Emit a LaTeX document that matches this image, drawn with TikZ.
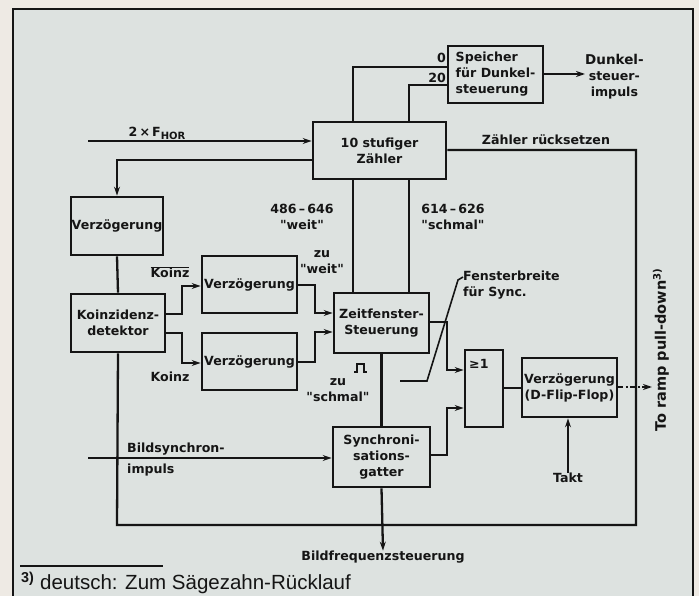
\documentclass[tikz,border=0pt]{standalone}
\usepackage{fontspec}
\setmainfont{DejaVu Sans}[Ligatures=TeXOff]
\newfontfamily\footfont{Liberation Sans}
\usetikzlibrary{arrows.meta}
\definecolor{panel}{HTML}{DDE2E0}
\definecolor{marg}{HTML}{EEEAE4}
\definecolor{ink}{HTML}{151515}
\begin{document}
\begin{tikzpicture}[x=1pt,y=-1pt,
  font=\bfseries\fontsize{12.6}{16}\selectfont, text=ink,
  box/.style={draw=ink, line width=2.8pt, fill=panel, inner sep=0.5pt, align=center},
  ln/.style={draw=ink, line width=2.3pt},
  arr/.style={ln, -{Stealth[length=9pt,width=6pt]}},
  lbl/.style={inner sep=0pt, align=center}]
\useasboundingbox (0,0) rectangle (699,596);
\fill[marg] (0,0) rectangle (699,596);
\fill[panel] (13,9) rectangle (693,600);
\draw[ink, line width=2.6pt] (13,600) -- (13,9) -- (693,9) -- (693,600);

% boxes
\node[box, minimum width=133pt, minimum height=57pt] (Z) at (379.5,150.5) {10 stufiger\\Zähler};
\node[box, minimum width=95pt, minimum height=57pt, align=left] (S) at (495.5,74.5) {Speicher\\für Dunkel-\\steuerung};
\node[box, minimum width=92pt, minimum height=58pt] (V1) at (117,226) {Verzögerung};
\node[box, minimum width=94pt, minimum height=58pt] (K) at (118,323) {Koinzidenz-\\detektor};
\node[box, minimum width=95pt, minimum height=57pt] (V2) at (249.5,284.5) {Verzögerung};
\node[box, minimum width=95pt, minimum height=57pt] (V3) at (249.5,361.5) {Verzögerung};
\node[box, minimum width=95pt, minimum height=60pt] (ZF) at (381.5,323) {Zeitfenster-\\Steuerung};
\node[box, minimum width=97pt, minimum height=60pt] (SG) at (381.5,457) {Synchroni-\\sations-\\gatter};
\node[box, minimum width=38pt, minimum height=77pt] (OR) at (484,388.5) {};
\node[lbl, anchor=north west] (ORt) at (469,359) {≥1};
\node[box, minimum width=95pt, minimum height=59pt] (DF) at (569.5,387.5) {Verzögerung\\(D-Flip-Flop)};

% labels
\node[lbl] (D) [anchor=west] at (585,77) {\fontsize{13.5}{16}\selectfont Dunkel-\\steuer-\\impuls};
\node[lbl, anchor=east] (L0) at (446,58) {0};
\node[lbl, anchor=east] (L20) at (446,78) {20};
\node[lbl] (FH) at (157,133) {2\,×\,F\raisebox{-3pt}{\fontsize{10}{10}\selectfont HOR}};
\node[lbl] (ZR) at (546,140) {Zähler rücksetzen};
\node[lbl] (W1) at (302,217) {486\,–\,646\\"weit"};
\node[lbl] (W2) at (453,217) {614\,–\,626\\"schmal"};
\node[lbl] (ZW) at (322,262) {zu\\"weit"};
\node[lbl] (ZS) at (338,390) {zu\\"schmal"};
\node[lbl] (KO) at (170,272) {$\overline{\mbox{Koinz}}$};
\node[lbl] (KU) at (170,377) {Koinz};
\node[lbl, anchor=west, align=left] (FB) at (463,285) {Fensterbreite\\für Sync.};
\node[lbl, anchor=west, align=left] (BS) at (127,460) {Bildsynchron-\\[5pt]impuls};
\node[lbl] (BF) at (383,557) {Bildfrequenzsteuerung};
\node[lbl] (TK) at (568,478) {Takt};
\node[lbl, rotate=90] (RP) at (661,350) {\fontsize{14.5}{16}\selectfont To ramp pull-down\textsuperscript{3)}};

% connectors
\coordinate (fin) at (88,141);
\draw[arr] (fin) -- (Z.west |- 0,141);
\draw[arr] (Z.west |- 0,160) -| (V1.north);
\draw[ln] (V1.south) -- (K.north);
\draw[arr] (K.east |- 0,314) -- (182,314) |- (V2.west |- 0,286);
\draw[arr] (K.east |- 0,333) -- (182,333) |- (V3.west |- 0,363);
\draw[arr] (V2.east |- 0,285) -- (315,285) |- (ZF.west |- 0,313);
\draw[arr] (V3.east |- 0,362) -- (315,362) |- (ZF.west |- 0,332);
\draw[ln] (Z.south -| 353,0) -- (ZF.north -| 353,0);
\draw[ln] (Z.south -| 409,0) -- (ZF.north -| 409,0);
\draw[ln] (Z.north -| 353,0) |- (S.west |- 0,67);
\draw[ln] (Z.north -| 409,0) |- (S.west |- 0,85);
\draw[arr] (S.east |- 0,74) -- (D.west |- 0,74);
\draw[ln] (Z.east |- 0,150) -- (636,150) -- (636,525) -- (117,525) -- (K.south);
\coordinate (bin) at (88,458);
\draw[arr] (bin) -- (SG.west |- 0,458);
\draw[ln] (ZF.south) -- (SG.north);
\draw[arr] (SG.south) -- (BF.north);
\draw[arr] (ZF.east |- 0,322) -- (447,322) |- (OR.west |- 0,370);
\draw[arr] (SG.east |- 0,455) -- (447,455) |- (OR.west |- 0,408);
\draw[ln] (OR.east |- 0,388) -- (DF.west |- 0,388);
\draw[ln, dash pattern=on 5pt off 2.5pt on 2pt off 2.5pt, -{Stealth[length=9pt,width=6pt]}] (DF.east |- 0,387) -- (652,387);
\draw[arr] (TK.north) -- (DF.south -| TK.north);
\draw[draw=ink, line width=1.6pt] (400,381) -- (427,381) -- (458,280) -- (FB.west |- 0,277);
\draw[draw=ink, line width=1.8pt] (354,372) -- (357,372) -- (357,364) -- (364,364) -- (364,372) -- (367,372);

% footnote
\draw[draw=ink, line width=1.4pt] (20,566) -- (163,566);
\node[lbl, anchor=west, font=\footfont\fontsize{20.5}{22}\selectfont] (FN) at (21,583) {\textsuperscript{\bfseries 3)}\ deutsch: Zum Sägezahn-Rücklauf};
\end{tikzpicture}
\end{document}
